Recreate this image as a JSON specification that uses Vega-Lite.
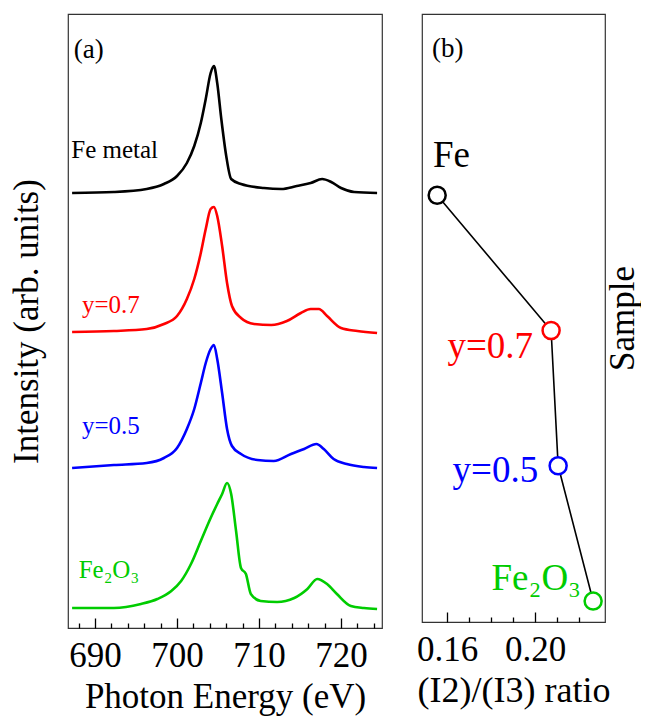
{
  "$schema": "https://vega.github.io/schema/vega-lite/v6.json",
  "background": "white",
  "padding": {"left": 8, "top": 13, "right": 0, "bottom": 4},
  "spacing": 40,
  "bounds": "flush",
  "config": {
    "font": "Liberation Serif, Times New Roman, serif",
    "view": {"stroke": "#333333", "strokeWidth": 1.2},
    "text": {"font": "Liberation Serif, Times New Roman, serif"},
    "axis": {"labelFont": "Liberation Serif, Times New Roman, serif", "titleFont": "Liberation Serif, Times New Roman, serif", "titleFontWeight": "normal", "labelColor": "black", "titleColor": "black", "grid": false, "tickColor": "black", "domain": false, "labelOverlap": false, "labelFlush": false}
  },
  "datasets": {
    "spectra": [
      {"series": "Fe metal", "energy": 687.2, "intensity": 435},
      {"series": "Fe metal", "energy": 692.3, "intensity": 436},
      {"series": "Fe metal", "energy": 696.3, "intensity": 439},
      {"series": "Fe metal", "energy": 698.4, "intensity": 444},
      {"series": "Fe metal", "energy": 700.0, "intensity": 452},
      {"series": "Fe metal", "energy": 701.2, "intensity": 465},
      {"series": "Fe metal", "energy": 702.1, "intensity": 482},
      {"series": "Fe metal", "energy": 702.9, "intensity": 505},
      {"series": "Fe metal", "energy": 703.5, "intensity": 529},
      {"series": "Fe metal", "energy": 704.1, "intensity": 555},
      {"series": "Fe metal", "energy": 704.5, "intensity": 562},
      {"series": "Fe metal", "energy": 704.9, "intensity": 545},
      {"series": "Fe metal", "energy": 705.4, "intensity": 509},
      {"series": "Fe metal", "energy": 706.0, "intensity": 472},
      {"series": "Fe metal", "energy": 706.6, "intensity": 449},
      {"series": "Fe metal", "energy": 707.8, "intensity": 444},
      {"series": "Fe metal", "energy": 710.6, "intensity": 440},
      {"series": "Fe metal", "energy": 712.7, "intensity": 439},
      {"series": "Fe metal", "energy": 714.6, "intensity": 442},
      {"series": "Fe metal", "energy": 716.3, "intensity": 445},
      {"series": "Fe metal", "energy": 717.7, "intensity": 449},
      {"series": "Fe metal", "energy": 718.8, "intensity": 446},
      {"series": "Fe metal", "energy": 720.0, "intensity": 440},
      {"series": "Fe metal", "energy": 721.6, "intensity": 436},
      {"series": "Fe metal", "energy": 724.4, "intensity": 435},
      {"series": "y=0.7", "energy": 687.2, "intensity": 296},
      {"series": "y=0.7", "energy": 692.3, "intensity": 297},
      {"series": "y=0.7", "energy": 696.3, "intensity": 299},
      {"series": "y=0.7", "energy": 698.4, "intensity": 304},
      {"series": "y=0.7", "energy": 700.0, "intensity": 312},
      {"series": "y=0.7", "energy": 701.2, "intensity": 329},
      {"series": "y=0.7", "energy": 702.1, "intensity": 349},
      {"series": "y=0.7", "energy": 702.9, "intensity": 375},
      {"series": "y=0.7", "energy": 703.5, "intensity": 399},
      {"series": "y=0.7", "energy": 704.1, "intensity": 419},
      {"series": "y=0.7", "energy": 704.5, "intensity": 421},
      {"series": "y=0.7", "energy": 704.9, "intensity": 412},
      {"series": "y=0.7", "energy": 705.5, "intensity": 382},
      {"series": "y=0.7", "energy": 706.1, "intensity": 345},
      {"series": "y=0.7", "energy": 706.7, "intensity": 322},
      {"series": "y=0.7", "energy": 707.8, "intensity": 310},
      {"series": "y=0.7", "energy": 709.4, "intensity": 304},
      {"series": "y=0.7", "energy": 711.5, "intensity": 303},
      {"series": "y=0.7", "energy": 713.4, "intensity": 307},
      {"series": "y=0.7", "energy": 715.1, "intensity": 315},
      {"series": "y=0.7", "energy": 716.3, "intensity": 319},
      {"series": "y=0.7", "energy": 717.3, "intensity": 319},
      {"series": "y=0.7", "energy": 718.3, "intensity": 312},
      {"series": "y=0.7", "energy": 720.0, "intensity": 300},
      {"series": "y=0.7", "energy": 722.0, "intensity": 297},
      {"series": "y=0.7", "energy": 724.4, "intensity": 295},
      {"series": "y=0.5", "energy": 687.2, "intensity": 160},
      {"series": "y=0.5", "energy": 692.3, "intensity": 163},
      {"series": "y=0.5", "energy": 696.3, "intensity": 165},
      {"series": "y=0.5", "energy": 698.4, "intensity": 170},
      {"series": "y=0.5", "energy": 700.0, "intensity": 180},
      {"series": "y=0.5", "energy": 701.2, "intensity": 199},
      {"series": "y=0.5", "energy": 702.1, "intensity": 219},
      {"series": "y=0.5", "energy": 702.9, "intensity": 245},
      {"series": "y=0.5", "energy": 703.5, "intensity": 265},
      {"series": "y=0.5", "energy": 704.1, "intensity": 279},
      {"series": "y=0.5", "energy": 704.5, "intensity": 283},
      {"series": "y=0.5", "energy": 704.9, "intensity": 269},
      {"series": "y=0.5", "energy": 705.5, "intensity": 235},
      {"series": "y=0.5", "energy": 706.1, "intensity": 199},
      {"series": "y=0.5", "energy": 706.7, "intensity": 182},
      {"series": "y=0.5", "energy": 707.8, "intensity": 174},
      {"series": "y=0.5", "energy": 709.8, "intensity": 168},
      {"series": "y=0.5", "energy": 711.8, "intensity": 167},
      {"series": "y=0.5", "energy": 713.9, "intensity": 174},
      {"series": "y=0.5", "energy": 715.5, "intensity": 179},
      {"series": "y=0.5", "energy": 717.0, "intensity": 184},
      {"series": "y=0.5", "energy": 717.9, "intensity": 179},
      {"series": "y=0.5", "energy": 719.1, "intensity": 169},
      {"series": "y=0.5", "energy": 720.7, "intensity": 164},
      {"series": "y=0.5", "energy": 722.8, "intensity": 161},
      {"series": "y=0.5", "energy": 724.4, "intensity": 160},
      {"series": "Fe2O3", "energy": 687.2, "intensity": 20},
      {"series": "Fe2O3", "energy": 692.3, "intensity": 20},
      {"series": "Fe2O3", "energy": 695.6, "intensity": 24},
      {"series": "Fe2O3", "energy": 697.6, "intensity": 29},
      {"series": "Fe2O3", "energy": 699.3, "intensity": 37},
      {"series": "Fe2O3", "energy": 700.5, "intensity": 47},
      {"series": "Fe2O3", "energy": 701.7, "intensity": 64},
      {"series": "Fe2O3", "energy": 702.9, "intensity": 87},
      {"series": "Fe2O3", "energy": 704.1, "intensity": 110},
      {"series": "Fe2O3", "energy": 704.9, "intensity": 124},
      {"series": "Fe2O3", "energy": 705.5, "intensity": 134},
      {"series": "Fe2O3", "energy": 706.1, "intensity": 145},
      {"series": "Fe2O3", "energy": 706.6, "intensity": 134},
      {"series": "Fe2O3", "energy": 707.2, "intensity": 97},
      {"series": "Fe2O3", "energy": 707.8, "intensity": 60},
      {"series": "Fe2O3", "energy": 708.4, "intensity": 54},
      {"series": "Fe2O3", "energy": 709.0, "intensity": 34},
      {"series": "Fe2O3", "energy": 710.2, "intensity": 27},
      {"series": "Fe2O3", "energy": 712.2, "intensity": 26},
      {"series": "Fe2O3", "energy": 714.3, "intensity": 30},
      {"series": "Fe2O3", "energy": 715.9, "intensity": 39},
      {"series": "Fe2O3", "energy": 717.1, "intensity": 49},
      {"series": "Fe2O3", "energy": 718.3, "intensity": 44},
      {"series": "Fe2O3", "energy": 719.5, "intensity": 34},
      {"series": "Fe2O3", "energy": 721.2, "intensity": 22},
      {"series": "Fe2O3", "energy": 722.8, "intensity": 20},
      {"series": "Fe2O3", "energy": 724.4, "intensity": 19}
    ],
    "spectraLabels": [
      {"series": "Fe metal", "label": "Fe metal", "energy": 687.1, "intensity": 470},
      {"series": "y=0.7", "label": "y=0.7", "energy": 688.4, "intensity": 315},
      {"series": "y=0.5", "label": "y=0.5", "energy": 688.4, "intensity": 194},
      {"series": "Fe2O3", "label": "Fe₂O₃", "energy": 688.0, "intensity": 50}
    ],
    "ratios": [
      {"series": "Fe metal", "sample": "Fe", "pos": 4, "ratio": 0.1555},
      {"series": "y=0.7", "sample": "y=0.7", "pos": 3, "ratio": 0.2073},
      {"series": "y=0.5", "sample": "y=0.5", "pos": 2, "ratio": 0.2105},
      {"series": "Fe2O3", "sample": "Fe₂O₃", "pos": 1, "ratio": 0.2264}
    ],
    "ratioLabels": [
      {"series": "y=0.7", "label": "y=0.7", "pos": 2.8, "ratio": 0.1991},
      {"series": "y=0.5", "label": "y=0.5", "pos": 1.88, "ratio": 0.2014},
      {"series": "Fe2O3", "label": "Fe₂O₃", "pos": 1.08, "ratio": 0.2209}
    ]
  },
  "hconcat": [
    {
      "width": 314,
      "height": 614,
      "resolve": {"axis": {"x": "independent"}},
      "layer": [
        {
          "data": {"name": "spectra"},
          "mark": {"type": "line", "strokeWidth": 2.6, "interpolate": "monotone"},
          "encoding": {
            "x": {"field": "energy", "type": "quantitative",
              "scale": {"domain": [686.7, 725], "nice": false, "zero": false},
              "axis": {"orient": "bottom", "title": "Photon Energy (eV)", "titleFontSize": 35, "labelFontSize": 35, "titlePadding": 6, "labelPadding": 10, "offset": -10,
                "values": [690, 700, 710, 720], "tickSize": 10, "tickWidth": 1.3}},
            "y": {"field": "intensity", "type": "quantitative",
              "scale": {"domain": [0, 614], "nice": false, "zero": false},
              "axis": {"title": "Intensity (arb. units)", "titleFontSize": 35, "ticks": false, "labels": false, "titlePadding": 24}},
            "color": {"field": "series", "type": "nominal",
              "scale": {"domain": ["Fe metal", "y=0.7", "y=0.5", "Fe2O3"], "range": ["#000000", "#ff0000", "#0000ff", "#00cc00"]},
              "legend": null}
          }
        },
        {
          "data": {"name": "spectraLabels"},
          "mark": {"type": "text", "align": "left", "baseline": "alphabetic", "fontSize": 25},
          "encoding": {
            "x": {"field": "energy", "type": "quantitative",
              "axis": {"orient": "bottom", "title": null, "labels": false, "offset": -5, "values": [688, 692, 694, 696, 698, 702, 704, 706, 708, 712, 714, 716, 718, 722, 724], "tickSize": 5, "tickWidth": 1.3}},
            "y": {"field": "intensity", "type": "quantitative"},
            "text": {"field": "label"},
            "color": {"field": "series", "type": "nominal", "legend": null}
          }
        },
        {
          "data": {"values": [{"label": "(a)", "energy": 687.4, "intensity": 570}]},
          "mark": {"type": "text", "align": "left", "baseline": "alphabetic", "fontSize": 27, "color": "black"},
          "encoding": {
            "x": {"field": "energy", "type": "quantitative", "axis": null},
            "y": {"field": "intensity", "type": "quantitative"},
            "text": {"field": "label"}
          }
        }
      ]
    },
    {
      "width": 183,
      "height": 608,
      "resolve": {"axis": {"x": "independent"}},
      "layer": [
        {
          "data": {"name": "ratios"},
          "mark": {"type": "line", "color": "black", "strokeWidth": 1.6},
          "encoding": {
            "x": {"field": "ratio", "type": "quantitative",
              "scale": {"domain": [0.1486, 0.2318], "nice": false, "zero": false},
              "axis": {"orient": "bottom", "title": "(I2)/(I3) ratio", "titleFontSize": 36, "labelFontSize": 35, "titlePadding": 6, "labelPadding": 10, "offset": -10,
                "values": [0.16, 0.2], "format": ".2f", "tickSize": 10, "tickWidth": 1.3}},
            "y": {"field": "pos", "type": "quantitative",
              "scale": {"domain": [0.845, 5.34], "nice": false, "zero": false},
              "axis": {"orient": "right", "title": "Sample", "titleFontSize": 35, "ticks": false, "labels": false, "titleAngle": 270, "titleBaseline": "top", "titlePadding": 0}},
            "order": {"field": "pos", "sort": "descending"}
          }
        },
        {
          "data": {"name": "ratios"},
          "mark": {"type": "point", "shape": "circle", "filled": false, "fill": "white", "fillOpacity": 1, "size": 290, "strokeWidth": 2.5, "opacity": 1},
          "encoding": {
            "x": {"field": "ratio", "type": "quantitative",
              "axis": {"orient": "bottom", "title": null, "labels": false, "offset": -5, "values": [0.17, 0.18, 0.19, 0.21, 0.22], "tickSize": 5, "tickWidth": 1.3}},
            "y": {"field": "pos", "type": "quantitative"},
            "color": {"field": "series", "type": "nominal",
              "scale": {"domain": ["Fe metal", "y=0.7", "y=0.5", "Fe2O3"], "range": ["#000000", "#ff0000", "#0000ff", "#00cc00"]},
              "legend": null}
          }
        },
        {
          "data": {"name": "ratioLabels"},
          "mark": {"type": "text", "align": "right", "baseline": "alphabetic", "fontSize": 37},
          "encoding": {
            "x": {"field": "ratio", "type": "quantitative", "axis": null},
            "y": {"field": "pos", "type": "quantitative"},
            "text": {"field": "label"},
            "color": {"field": "series", "type": "nominal", "legend": null}
          }
        },
        {
          "data": {"values": [{"label": "Fe", "ratio": 0.1536, "pos": 4.21}, {"label": "(b)", "ratio": 0.1532, "pos": 5.02}]},
          "mark": {"type": "text", "align": "left", "baseline": "alphabetic", "color": "black"},
          "encoding": {
            "x": {"field": "ratio", "type": "quantitative", "axis": null},
            "y": {"field": "pos", "type": "quantitative"},
            "text": {"field": "label"},
            "size": {"field": "label", "type": "nominal", "scale": {"domain": ["Fe", "(b)"], "range": [37, 27]}, "legend": null}
          }
        }
      ]
    }
  ]
}
